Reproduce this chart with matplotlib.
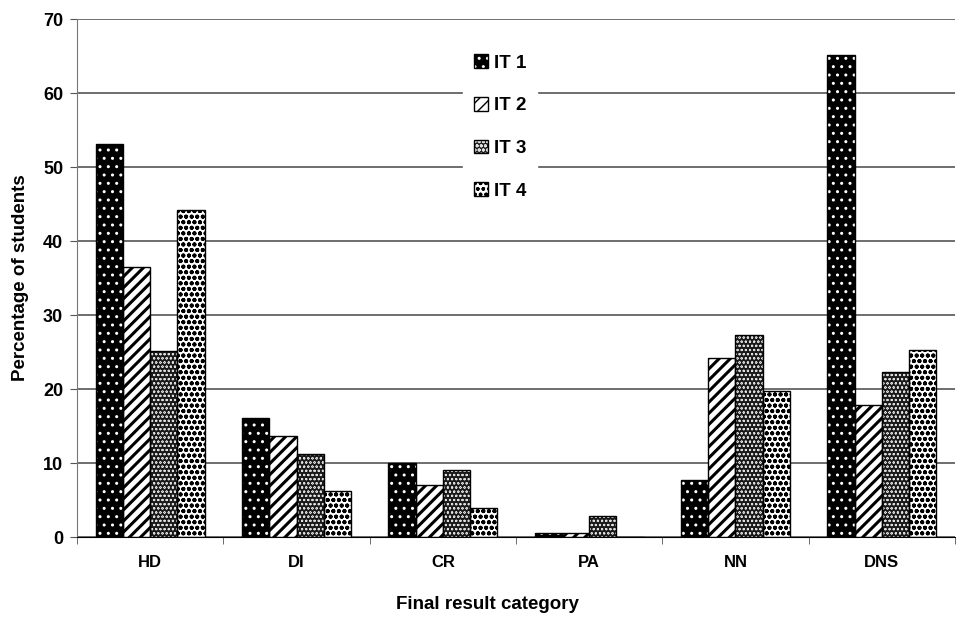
import numpy as np
import matplotlib
matplotlib.use("Agg")
import matplotlib.pyplot as plt
from matplotlib.patches import Patch

plt.rcParams['font.family'] = ['Liberation Sans', 'DejaVu Sans']
plt.rcParams['font.weight'] = 'bold'

# Dados
categorias = ["HD", "DI", "CR", "PA", "NN", "DNS"]
series = ["IT 1", "IT 2", "IT 3", "IT 4"]
it1 = [53.1, 16.1, 10.0, 0.6, 7.7, 65.2]
it2 = [36.5, 13.6, 7.1, 0.5, 24.2, 17.8]
it3 = [25.1, 11.2, 9.1, 2.8, 27.3, 22.3]
it4 = [44.2, 6.2, 3.9, 0.0, 19.7, 25.3]
valores = [it1, it2, it3, it4]

# Estilos: (cor de fundo, cor do hachurado, hachurado, espessura)
estilos = [
    ("black", "white", "..", 1.0),
    ("white", "black", "///", 2.2),
    ("#1a1a1a", "#dddddd", "oooo", 0.45),
    ("white", "black", "ooo", 1.3),
]

fig = plt.figure(figsize=(9.69, 6.18), dpi=100)
ax = fig.add_axes([0.0795, 0.131, 0.906, 0.838])

x = np.arange(len(categorias))
w = 0.186
handles = []
for i, (vals, (fc, hc, hatch, hlw)) in enumerate(zip(valores, estilos)):
    pos = x + (i - 1.5) * w
    with plt.rc_context({'hatch.linewidth': hlw}):
        ax.bar(pos, vals, w, facecolor=fc, edgecolor=hc, hatch=hatch,
               linewidth=0, zorder=3)
        h1 = Patch(facecolor=fc, edgecolor=hc, hatch=hatch, linewidth=0)
    ax.bar(pos, vals, w, fill=False, edgecolor="black", linewidth=1.0, zorder=4)
    h2 = Patch(fill=False, edgecolor="black", linewidth=1.0)
    handles.append((h1, h2))

ax.set_xlim(-0.5, len(categorias) - 0.5)
ax.set_ylim(0, 70)
ax.set_yticks(np.arange(0, 71, 10))
ax.set_xticks(x)
ax.set_xticklabels(categorias, fontsize=12, fontweight='bold')
ax.set_xticks(np.arange(-0.5, len(categorias)), minor=True)
ax.tick_params(axis='x', which='major', length=0, pad=13)
ax.tick_params(axis='x', which='minor', length=5, color='#555555')
ax.tick_params(axis='y', length=5, color='#555555', labelsize=13, pad=5)
for t in ax.get_yticklabels():
    t.set_fontweight('bold')

ax.yaxis.grid(True, color='#555555', linewidth=1.2, zorder=0)
ax.set_axisbelow(True)
for s in ["top", "right"]:
    ax.spines[s].set_visible(False)
ax.spines["left"].set_color('#777777')
ax.spines["bottom"].set_color('black')
ax.spines["bottom"].set_zorder(5)

ax.set_ylabel("Percentage of students", fontsize=13.5, fontweight='bold')
ax.yaxis.set_label_coords(-0.055, 0.5)
ax.set_xlabel("Final result category", fontsize=13.5, fontweight='bold')
ax.xaxis.set_label_coords(0.468, -0.114)

leg = ax.legend(handles, series, loc='center', bbox_to_anchor=(0.482, 0.792),
                frameon=True, fontsize=13.5, handlelength=0.75, handleheight=0.75,
                handletextpad=0.3, labelspacing=1.35, borderpad=0.6)
leg.get_frame().set_edgecolor('white')
leg.get_frame().set_facecolor('white')
leg.get_frame().set_alpha(1)
for t in leg.get_texts():
    t.set_fontweight('bold')

fig.savefig("out.png", dpi=100)
